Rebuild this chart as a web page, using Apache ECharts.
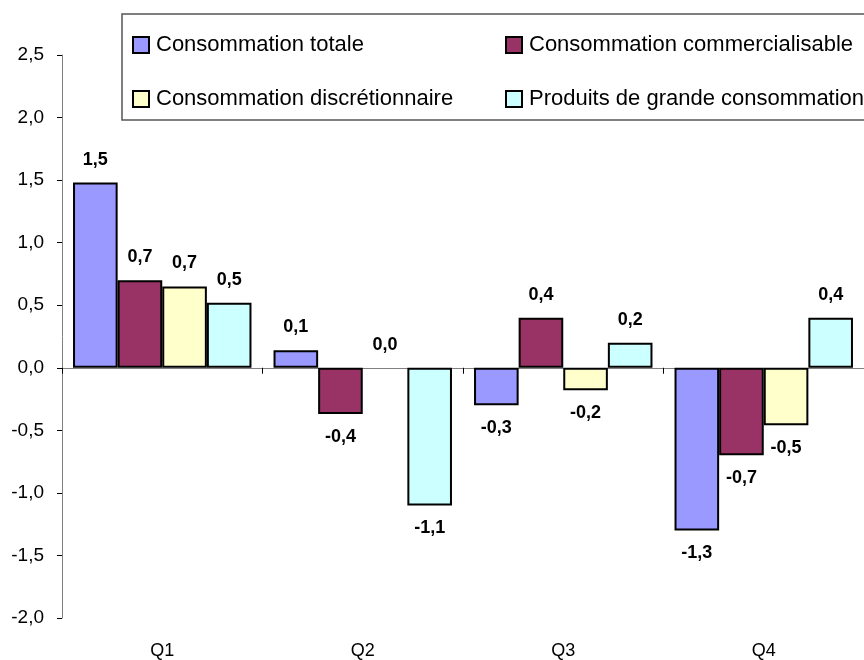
<!DOCTYPE html>
<html>
<head>
<meta charset="utf-8">
<script src="https://cdn.jsdelivr.net/npm/echarts@6/dist/echarts.min.js"></script>
<style>
  html, body { margin: 0; padding: 0; background: #fff; }
  #chart { width: 864px; height: 660px; }
</style>
</head>
<body>
<div id="chart"></div>
<script>
// Quarterly change by consumption segment (%)
const quarters = ['Q1', 'Q2', 'Q3', 'Q4'];
const seriesNames = [
  'Consommation totale',
  'Consommation commercialisable',
  'Consommation discrétionnaire',
  'Produits de grande consommation'
];
const totale = [1.48, 0.14, -0.30, -1.30];
const commercialisable = [0.70, -0.37, 0.40, -0.70];
const discretionnaire = [0.65, 0.0, -0.18, -0.46];
const produits = [0.52, -1.10, 0.20, 0.40];
const seriesColors = ['#9999FF', '#993366', '#FFFFCC', '#CCFFFF'];

const FONT = '"Liberation Sans Narrow", "Arial Narrow", "Liberation Sans", Arial, sans-serif';
const fmt = v => v.toFixed(1).replace('.', ',');

function toItems(values) {
  return values.map(v => ({
    value: v,
    label: { position: v < 0 ? 'bottom' : 'top' },
    itemStyle: v === 0 ? { borderWidth: 0 } : undefined
  }));
}

const allValues = [totale, commercialisable, discretionnaire, produits];

const series = allValues.map((vals, i) => ({
  name: seriesNames[i],
  type: 'bar',
  xAxisIndex: 0,
  barGap: '0%',
  barCategoryGap: '11%',
  data: toItems(vals),
  itemStyle: { color: seriesColors[i], borderColor: '#000', borderWidth: 2 },
  label: {
    show: true,
    distance: 14,
    fontFamily: FONT,
    fontSize: 18,
    fontWeight: 'bold',
    color: '#000',
    formatter: p => fmt(p.value)
  },
  emphasis: { disabled: true }
}));

// legend laid out as a 2x2 block inside a framed box
const legendPos = [
  { left: 132, top: 34 },
  { left: 505, top: 34 },
  { left: 132, top: 88 },
  { left: 505, top: 88 }
];
const legends = seriesNames.map((name, i) => ({
  data: [name],
  left: legendPos[i].left,
  top: legendPos[i].top,
  padding: 0,
  icon: 'rect',
  itemWidth: 16,
  itemHeight: 16,
  itemGap: 6,
  itemStyle: { borderColor: '#000', borderWidth: 2 },
  textStyle: { fontFamily: FONT, fontSize: 22, color: '#000', padding: [0, 0, 0, 2] },
  selectedMode: false
}));

const chart = echarts.init(document.getElementById('chart'), null, { renderer: 'canvas' });
chart.setOption({
  animation: false,
  backgroundColor: '#fff',
  grid: { left: 62, top: 55, width: 807, height: 563, containLabel: false },
  legend: legends,
  graphic: [{
    type: 'rect',
    shape: { x: 122, y: 14, width: 760, height: 106 },
    style: { fill: 'none', stroke: '#555', lineWidth: 1.5 },
    z: 10
  }],
  xAxis: [
    {
      type: 'category',
      data: quarters,
      position: 'bottom',
      axisLine: { show: false, onZero: false },
      axisTick: { show: false },
      axisLabel: { margin: 24, fontFamily: FONT, fontSize: 18, color: '#000' }
    },
    {
      type: 'category',
      data: quarters,
      position: 'top',
      axisLine: { show: true, onZero: true, lineStyle: { color: '#808080', width: 1 } },
      axisTick: { show: true, inside: true, length: 6, lineStyle: { color: '#000', width: 1 } },
      axisLabel: { show: false }
    }
  ],
  yAxis: {
    type: 'value',
    min: -2,
    max: 2.5,
    interval: 0.5,
    axisLine: { show: true, lineStyle: { color: '#808080', width: 1 } },
    axisTick: { show: true, length: 5, lineStyle: { color: '#000' } },
    splitLine: { show: false },
    axisLabel: { margin: 18, fontFamily: FONT, fontSize: 19, color: '#000', formatter: v => fmt(v) }
  },
  series: series
});
</script>
</body>
</html>
